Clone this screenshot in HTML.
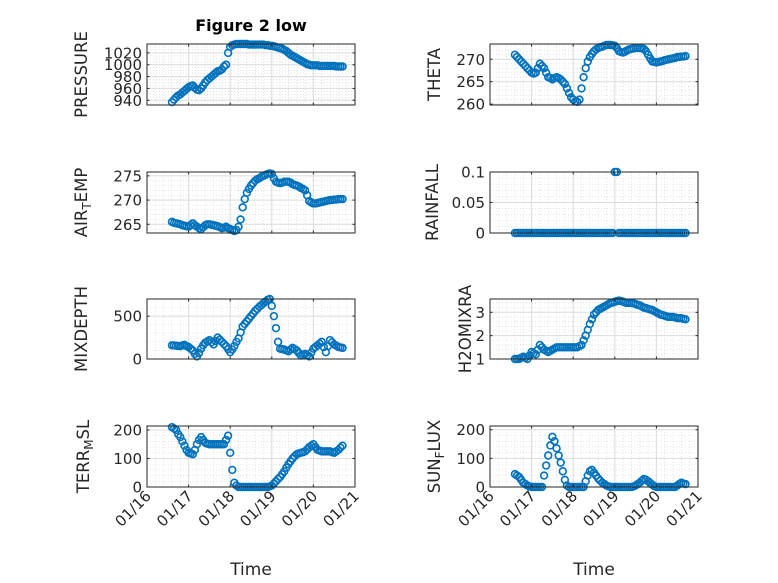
<!DOCTYPE html>
<html><head><meta charset="utf-8">
<style>
html,body{margin:0;padding:0;background:#fff;}
svg{display:block;font-family:"DejaVu Sans","Liberation Sans",sans-serif;}
</style></head>
<body>
<svg id="fig" width="778" height="583" viewBox="0 0 778 583" xmlns="http://www.w3.org/2000/svg">
<rect x="0" y="0" width="778" height="583" fill="#fff"/>
<text x="251" y="31" text-anchor="middle" font-size="16" font-weight="bold" fill="#000">Figure 2 low</text>
</svg>
<script>
const times = [
16.60,16.65,16.70,16.75,16.80,16.85,16.90,16.95,
17.00,17.05,17.10,17.15,17.20,17.25,17.30,17.35,17.40,17.45,17.50,17.55,17.60,17.65,17.70,17.75,17.80,17.85,17.90,17.95,
18.00,18.05,18.10,18.15,18.20,18.25,18.30,18.35,18.40,18.45,18.50,18.55,18.60,18.65,18.70,18.75,18.80,18.85,18.90,18.95,
19.00,19.05,19.10,19.15,19.20,19.25,19.30,19.35,19.40,19.45,19.50,19.55,19.60,19.65,19.70,19.75,19.80,19.85,19.90,19.95,
20.00,20.05,20.10,20.15,20.20,20.25,20.30,20.35,20.40,20.45,20.50,20.55,20.60,20.65,20.70];
const dayTicks = [16,17,18,19,20,21];
const dayTickLabels = ["01/16","01/17","01/18","01/19","01/20","01/21"];
const pressure = [
937,941,945,948,950,953,956,959,
962,964,965,961,958,957,960,965,970,974,977,980,983,986,989,990,992,997,1000,1020,
1030,1033,1034,1035,1035,1035,1035,1035,1035,1034,1034,1034,1034,1034,1034,1034,1034,1033,1033,1032,
1032,1031,1030,1029,1028,1027,1025,1023,1020,1017,1015,1013,1011,1009,1007,1005,1003,1001,1000,999,
999,999,999,998,998,998,998,998,998,998,998,997,997,997,997];
const theta = [
271,270.5,270,269.5,269,268.5,268,267.5,
267,266.8,267,268,269,268.5,268,267,266,265.8,265.5,265.8,266,265.8,265.5,265,264.5,263.5,262.5,261.5,
261,260.6,260.5,261,263.5,266,268,269.5,270.5,271.2,271.8,272.2,272.5,272.7,272.8,273,273.2,273.2,273.2,273.1,
273,272.5,271.8,271.6,271.5,271.7,272,272.2,272.3,272.4,272.5,272.5,272.5,272.4,272.3,271.8,271,270.2,269.5,269.4,
269.3,269.4,269.5,269.6,269.8,269.9,270,270.1,270.2,270.3,270.5,270.5,270.6,270.6,270.7];
const airTemp = [
265.5,265.3,265.2,265.1,265,264.8,264.7,264.6,
264.5,264.8,265.2,264.8,264.5,264.2,264,264.4,264.8,265,265,264.9,264.8,264.7,264.6,264.4,264.2,264.3,264.5,264.2,
264,263.8,263.6,263.8,264.5,266,268.5,270.2,271.5,272.3,273,273.5,274,274.3,274.5,274.8,275,275.2,275.4,275.5,
275.4,274.5,273.8,273.6,273.5,273.6,273.8,273.8,273.8,273.6,273.3,273.1,273,272.8,272.5,272.3,272,271,269.8,269.5,
269.3,269.3,269.4,269.5,269.6,269.7,269.8,269.9,270,270,270.1,270.1,270.2,270.2,270.2];
const rainfall = [
0,0,0,0,0,0,0,0,
0,0,0,0,0,0,0,0,0,0,0,0,0,0,0,0,0,0,0,0,
0,0,0,0,0,0,0,0,0,0,0,0,0,0,0,0,0,0,0,0,
0.1,0.1,0,0,0,0,0,0,0,0,0,0,0,0,0,0,0,0,0,0,
0,0,0,0,0,0,0,0,0,0,0,0,0,0,0];
const mixDepth = [
160,158,155,152,150,158,165,150,
140,120,100,60,30,70,120,160,190,205,220,195,170,210,250,225,200,175,150,115,
80,110,150,200,240,310,380,410,440,470,500,530,560,585,610,630,650,670,690,700,
620,500,360,200,120,115,110,100,90,110,130,115,100,70,40,50,60,45,30,75,
120,140,160,180,200,140,80,150,220,195,170,155,140,135,130];
const h2oMix = [
1.0,1.0,1.0,1.05,1.1,1.05,1.0,1.15,
1.3,1.25,1.2,1.4,1.6,1.5,1.4,1.35,1.3,1.35,1.4,1.45,1.5,1.5,1.5,1.5,1.5,1.5,1.5,1.5,
1.5,1.5,1.5,1.55,1.6,1.8,2.0,2.25,2.5,2.7,2.9,3.0,3.1,3.15,3.2,3.25,3.3,3.35,3.4,3.42,
3.45,3.48,3.5,3.48,3.45,3.42,3.4,3.4,3.4,3.38,3.35,3.32,3.3,3.25,3.2,3.18,3.15,3.12,3.1,3.05,
3.0,2.95,2.9,2.88,2.85,2.82,2.8,2.8,2.8,2.78,2.75,2.75,2.75,2.72,2.7];
const terrMsl = [
210,205,200,185,175,160,145,130,
120,118,115,130,150,165,175,165,155,152,150,150,150,150,150,150,150,150,165,180,
120,60,15,5,0,0,0,0,0,0,0,0,0,0,0,0,0,0,0,2,
5,12,20,28,35,45,55,68,80,90,100,108,115,118,120,122,125,132,140,145,
150,140,130,128,125,125,125,125,125,122,120,125,130,138,145];
const sunFlux = [
45,40,35,25,15,10,5,2,
0,0,0,0,0,0,40,75,110,145,175,160,135,110,85,55,25,5,0,0,
0,0,0,0,0,0,20,40,55,60,50,40,30,22,15,10,5,2,0,0,
0,0,0,0,0,0,0,0,0,2,5,10,15,22,28,25,20,14,8,3,
0,0,0,0,0,0,0,0,0,0,5,10,15,12,10];
const pressureTicks = [940,960,980,1000,1020];
const thetaTicks = [260,265,270];
const airTicks = [265,270,275];
const rainTicks = [0,0.05,0.1];
const rainTickLabels = ["0","0.05","0.1"];
const mixTicks = [0,500];
const h2oTicks = [1,2,3];
const terrTicks = [0,100,200];
const sunTicks = [0,100,200];

const NS = "http://www.w3.org/2000/svg";
const svg = document.getElementById('fig');
function mk(tag, attrs, parent){
  const e = document.createElementNS(NS, tag);
  for (const k in attrs) e.setAttribute(k, attrs[k]);
  (parent||svg).appendChild(e);
  return e;
}
const COLS = [[147,355],[490,698]];
const ROWS = [[44,105],[172,233],[299,359],[426,487]];

function panel(o){
  const [x0,x1] = COLS[o.col], [y0,y1] = ROWS[o.row];
  const g = mk('g',{});
  
  
  const xs = d => x0 + (d - 16) / 5 * (x1 - x0);
  const ys = v => y1 - (v - o.ylim[0]) / (o.ylim[1] - o.ylim[0]) * (y1 - y0);
  for (let d = 16; d < 21; d += 0.2) {
    const xx = xs(d);
    mk('line',{x1:xx,x2:xx,y1:y0,y2:y1,stroke:'#d9d9d9','stroke-width':0.7,'stroke-dasharray':'1,2'},g);
  }
  for (let v = Math.ceil(o.ylim[0]/o.minor)*o.minor; v <= o.ylim[1]; v += o.minor) {
    const yy = ys(v);
    mk('line',{x1:x0,x2:x1,y1:yy,y2:yy,stroke:'#d9d9d9','stroke-width':0.7,'stroke-dasharray':'1,2'},g);
  }
  dayTicks.forEach(d => { const xx = xs(d); mk('line',{x1:xx,x2:xx,y1:y0,y2:y1,stroke:'#dcdcdc','stroke-width':1},g); });
  o.ticks.forEach(v => { const yy = ys(v); mk('line',{x1:x0,x2:x1,y1:yy,y2:yy,stroke:'#dcdcdc','stroke-width':1},g); });
  const clip = 'clip' + o.name;
  const cp = mk('clipPath',{id:clip},g);
  mk('rect',{x:x0-6,y:y0-6,width:x1-x0+12,height:y1-y0+12},cp);
  const dg = mk('g',{'clip-path':'url(#'+clip+')'},g);
  
  
  o.data.forEach((v,i) => {
    const c = mk('circle',{cx:xs(times[i]),cy:ys(v),r:3.4,fill:'none',stroke:'#0072BD','stroke-width':1.6},dg);
    
    
  });
  mk('rect',{x:x0,y:y0,width:x1-x0,height:y1-y0,fill:'none',stroke:'#262626','stroke-width':1},g);
  dayTicks.forEach(d => { const xx = xs(d);
    mk('line',{x1:xx,x2:xx,y1:y1,y2:y1-2.5,stroke:'#262626'},g);
    mk('line',{x1:xx,x2:xx,y1:y0,y2:y0+2.5,stroke:'#262626'},g); });
  o.ticks.forEach((v,i) => { const yy = ys(v);
    mk('line',{x1:x0,x2:x0+2.5,y1:yy,y2:yy,stroke:'#262626'},g);
    mk('line',{x1:x1,x2:x1-2.5,y1:yy,y2:yy,stroke:'#262626'},g);
    const t = mk('text',{x:x0-5,y:yy+5.5,'text-anchor':'end','font-size':15,fill:'#262626'},g);
    t.textContent = o.labels ? o.labels[i] : String(v);
    
    
  });
  const lx = o.labelX, ly = (y0+y1)/2;
  const yl = mk('text',{x:0,y:0,transform:`translate(${lx},${ly}) rotate(-90)`,'text-anchor':'middle','font-size':16.5,fill:'#262626'},g);
  
  
  if (o.sub) {
    const a = mk('tspan',{},yl); a.textContent = o.sub[0];
    const b = mk('tspan',{'font-size':12,dy:4},yl); b.textContent = o.sub[1];
    const c = mk('tspan',{dy:-4},yl); c.textContent = o.sub[2];
  } else yl.textContent = o.label;
  if (o.row === 3) {
    dayTicks.forEach((d,i) => {
      const xx = xs(d);
      const t = mk('text',{x:0,y:0,transform:`translate(${xx+5},${y1+10}) rotate(-45)`,'text-anchor':'end','font-size':15,fill:'#262626'},g);
      t.textContent = dayTickLabels[i];
      
      
    });
    const xt = mk('text',{x:(x0+x1)/2,y:575,'text-anchor':'middle','font-size':17,fill:'#262626'},g);
    xt.textContent = 'Time';
    
    
  }
}
panel({name:'pressure',col:0,row:0,data:pressure,ylim:[932,1035],ticks:pressureTicks,minor:5,label:'PRESSURE',labelX:87});
panel({name:'theta',col:1,row:0,data:theta,ylim:[259.8,273.4],ticks:thetaTicks,minor:1,label:'THETA',labelX:440});
panel({name:'air-temp',col:0,row:1,data:airTemp,ylim:[263.2,275.8],ticks:airTicks,minor:1,sub:['AIR','T','EMP'],labelX:87});
panel({name:'rainfall',col:1,row:1,data:rainfall,ylim:[0,0.1],ticks:rainTicks,labels:rainTickLabels,minor:0.01,label:'RAINFALL',labelX:438});
panel({name:'mixdepth',col:0,row:2,data:mixDepth,ylim:[0,700],ticks:mixTicks,minor:100,label:'MIXDEPTH',labelX:87});
panel({name:'h2omixra',col:1,row:2,data:h2oMix,ylim:[1,3.57],ticks:h2oTicks,minor:0.2,label:'H2OMIXRA',labelX:471});
panel({name:'terr-msl',col:0,row:3,data:terrMsl,ylim:[0,214],ticks:terrTicks,minor:20,sub:['TERR','M','SL'],labelX:89});
panel({name:'sun-flux',col:1,row:3,data:sunFlux,ylim:[0,213],ticks:sunTicks,minor:20,sub:['SUN','F','LUX'],labelX:440});
</script>
</body></html>
